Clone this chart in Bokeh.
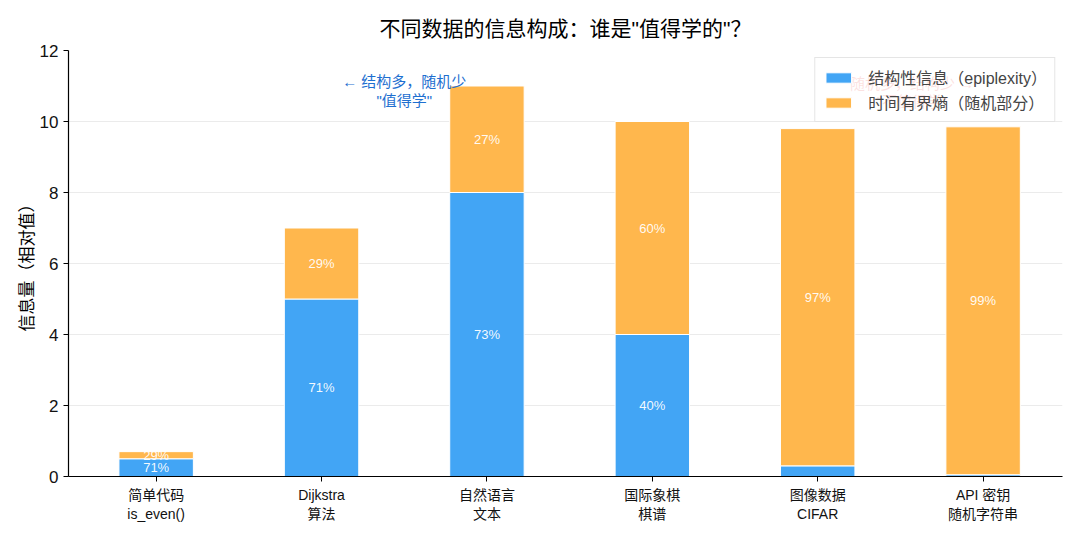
from bokeh.plotting import figure
from bokeh.models import ColumnDataSource, Range1d, FixedTicker, Label
from bokeh.embed import file_html
from bokeh.resources import INLINE

# Data
categories = ['简单代码\nis_even()', 'Dijkstra\n算法', '自然语言\n文本',
              '国际象棋\n棋谱', '图像数据\nCIFAR', 'API 密钥\n随机字符串']
structure = [0.5, 5.0, 8.0, 4.0, 0.3, 0.05]
randomness = [0.2, 2.0, 3.0, 6.0, 9.5, 9.8]

FONT = "Liberation Sans, Noto Sans CJK SC, sans-serif"
BLUE = "#42A5F5"
ORANGE = "#FFB74D"

xs = list(range(len(categories)))
source = ColumnDataSource(data=dict(x=xs, structure=structure, randomness=randomness))

p = figure(width=1072, height=528, output_backend="svg", toolbar_location=None,
           x_range=Range1d(-0.53, 5.48), y_range=Range1d(0, 12),
           min_border_left=68, min_border_right=10, min_border_top=50, min_border_bottom=52)

p.title.text = '不同数据的信息构成：谁是"值得学的"？'
p.title.align = "center"
p.title.text_font = FONT
p.title.text_font_size = "21px"
p.title.text_font_style = "normal"
p.title.text_color = "black"
p.title.standoff = 22

# hidden annotation drawn first so the legend covers it
p.add_layout(Label(x=4.57, y=10.82, text='随机多，结构少 →\n"不值得学"', text_align="center",
                   text_baseline="middle", text_color="#E53935", text_font_size="15px",
                   text_font=FONT, text_line_height=1.1))

p.vbar_stack(['structure', 'randomness'], x='x', width=0.45, source=source,
             fill_color=[BLUE, ORANGE], fill_alpha=1.0, line_color="white", line_width=1,
             legend_label=['结构性信息（epiplexity）', '时间有界熵（随机部分）'])

# percentage labels inside segments
lx, ly, lt = [], [], []
for i, (s, r) in enumerate(zip(structure, randomness)):
    total = s + r
    if s / total > 0.05:
        lx.append(i); ly.append(s / 2); lt.append(f"{s / total * 100:.0f}%")
    if r / total > 0.05:
        lx.append(i); ly.append(s + r / 2); lt.append(f"{r / total * 100:.0f}%")
p.text(x=lx, y=ly, text=lt, text_color="white", text_font_size="13px",
       text_align="center", text_baseline="middle", text_alpha=0.95)

p.add_layout(Label(x=1.5, y=10.85, text='← 结构多，随机少\n"值得学"', text_align="center",
                   text_baseline="middle", text_color="#1E6FD0", text_font_size="15px",
                   text_font=FONT, text_line_height=1.1))

# axes
p.xaxis.ticker = FixedTicker(ticks=xs)
p.xaxis.major_label_overrides = {i: c for i, c in enumerate(categories)}
p.yaxis.ticker = FixedTicker(ticks=[0, 2, 4, 6, 8, 10, 12])
p.yaxis.axis_label = "信息量（相对值）"
p.yaxis.axis_label_text_font = FONT
p.yaxis.axis_label_text_font_size = "17px"
p.yaxis.axis_label_text_font_style = "normal"
p.yaxis.axis_label_text_color = "black"
p.yaxis.axis_label_standoff = 0
for ax in (p.xaxis, p.yaxis):
    ax.axis_line_color = "black"
    ax.axis_line_width = 1.2
    ax.major_tick_line_color = "black"
    ax.major_tick_out = 5
    ax.major_tick_in = 0
    ax.minor_tick_line_color = None
    ax.major_label_text_font = FONT
    ax.major_label_text_color = "#111111"
p.xaxis.major_label_text_font_size = "14px"
p.yaxis.major_label_text_font_size = "17px"

p.xgrid.grid_line_color = None
p.ygrid.grid_line_color = "#e6e6e6"
p.ygrid.grid_line_alpha = 0.8
p.outline_line_color = None

p.legend.location = "top_right"
p.legend.margin = 7
p.legend.padding = 7
p.legend.spacing = 1
p.legend.label_standoff = 14
p.legend.border_line_color = "#cccccc"
p.legend.background_fill_alpha = 0.85
p.legend.label_text_font = FONT
p.legend.label_text_font_size = "16px"
p.legend.glyph_width = 32
p.legend.glyph_height = 13

open("out.html", "w").write(file_html(p, INLINE))
